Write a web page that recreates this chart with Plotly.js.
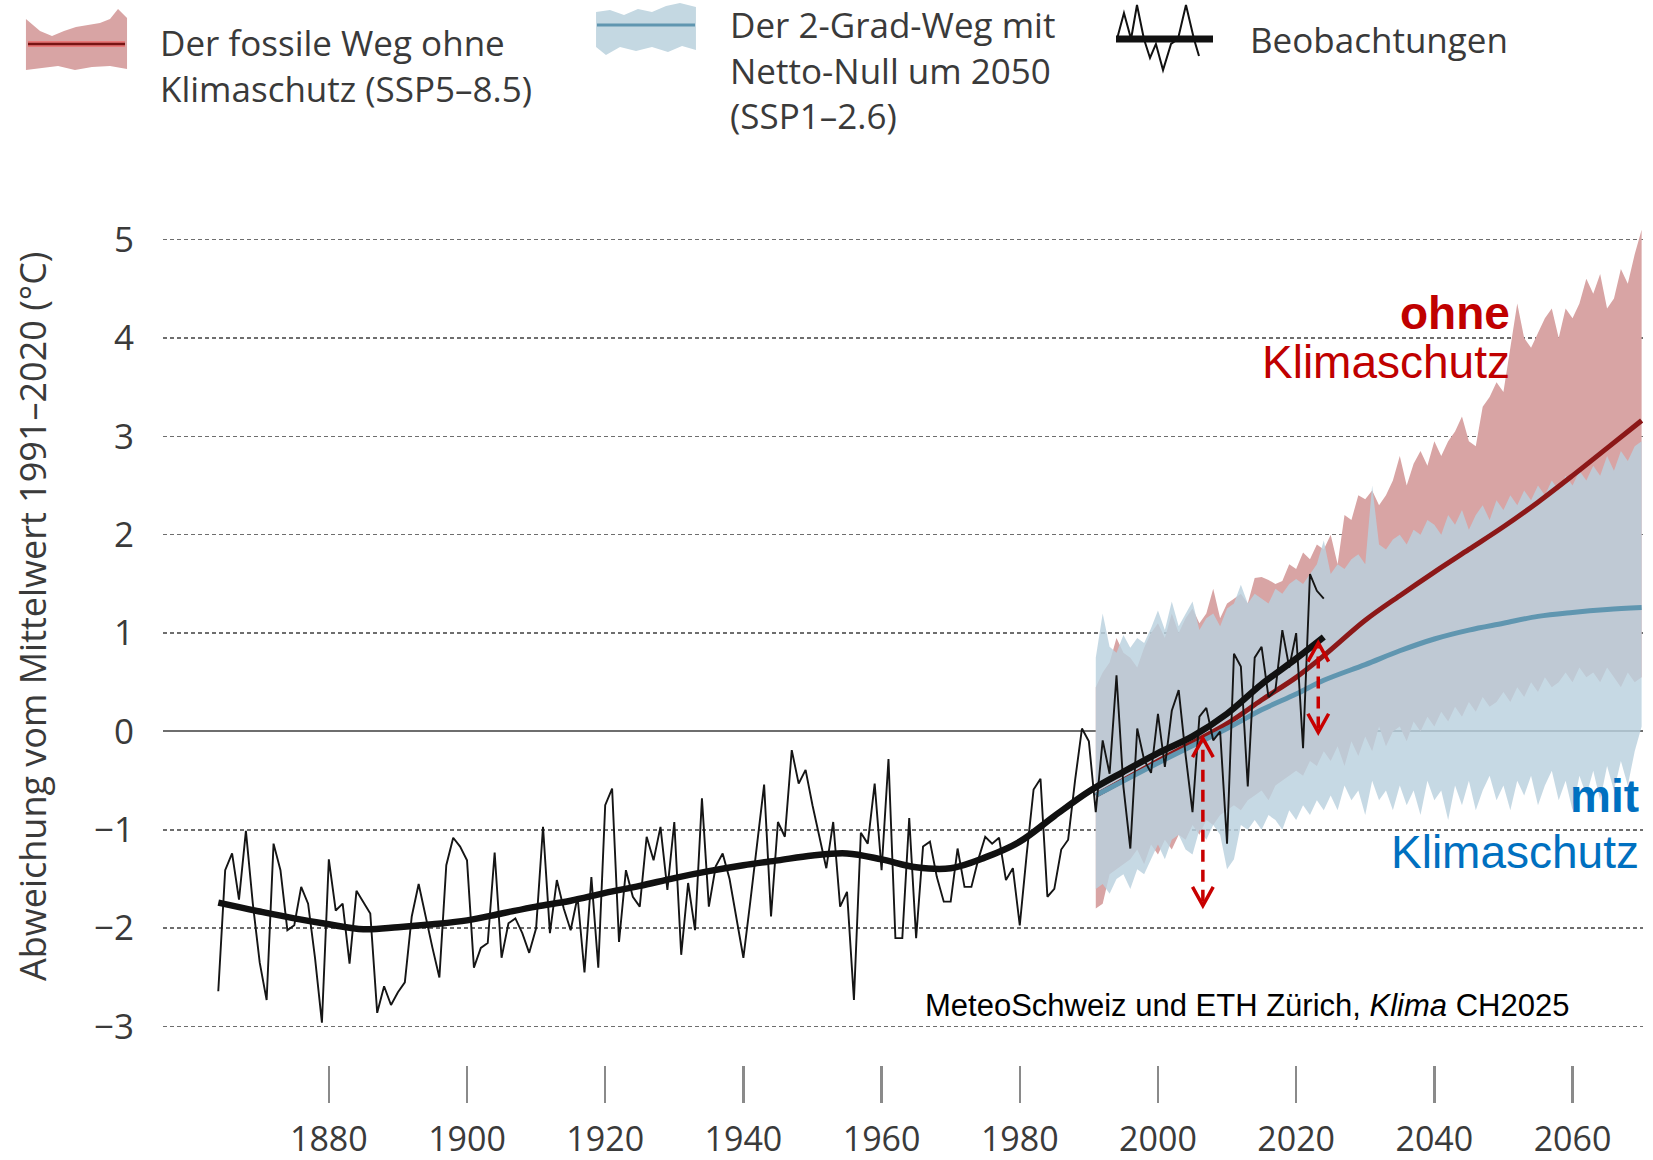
<!DOCTYPE html>
<html><head><meta charset="utf-8">
<script src="https://cdn.plot.ly/plotly-3.0.1.min.js"></script>
<style>html,body{margin:0;padding:0;background:#fff}#chart{width:1653px;height:1160px}</style>
</head><body><div id="chart"></div>
<script>
// ---------- data ----------
const OBS_START = 1864;
const obsValues = [
 -2.64,-1.41,-1.24,-1.71,-1.01,-1.75,-2.35,-2.73,-1.14,-1.41,
 -2.02,-1.97,-1.58,-1.75,-2.30,-2.96,-1.30,-1.82,-1.75,-2.36,
 -1.62,-1.73,-1.85,-2.86,-2.59,-2.78,-2.65,-2.55,-1.88,-1.55,
 -1.88,-2.20,-2.50,-1.36,-1.08,-1.17,-1.31,-2.40,-2.20,-2.15,
 -1.23,-2.30,-1.95,-1.90,-2.05,-2.25,-2.00,-0.97,-2.05,-1.51,
 -1.80,-2.02,-1.68,-2.45,-1.48,-2.40,-0.75,-0.58,-2.14,-1.41,
 -1.68,-1.78,-1.07,-1.31,-0.97,-1.61,-0.92,-2.27,-1.54,-2.02,
 -0.68,-1.78,-1.37,-1.24,-1.50,-1.90,-2.30,-1.73,-1.13,-0.54,
 -1.88,-0.92,-1.07,-0.19,-0.53,-0.39,-0.75,-1.07,-1.39,-0.92,
 -1.78,-1.63,-2.73,-1.03,-1.14,-0.53,-1.41,-0.28,-2.10,-2.10,
 -0.88,-2.10,-1.17,-1.12,-1.48,-1.73,-1.73,-1.19,-1.58,-1.58,
 -1.30,-1.07,-1.14,-1.08,-1.51,-1.39,-1.97,-1.25,-0.59,-0.48,
 -1.68,-1.60,-1.20,-1.10,-0.50,0.03,-0.10,-0.82,-0.09,-0.43,
 0.57,-0.56,-1.19,0.03,-0.29,-0.42,0.18,-0.36,0.21,0.42,
 -0.24,-0.82,0.15,0.24,-0.09,0.00,-1.14,0.79,0.66,-0.56,
 0.75,0.86,0.35,0.42,1.03,0.65,1.00,-0.17,1.60,1.43,1.35
];
const smoothYears  = [1864,1870,1875,1880,1885,1890,1895,1900,1905,1910,1915,1920,1925,1930,1935,1940,1945,1950,1955,1960,1965,1970,1975,1980,1985,1990,1995,2000,2005,2010,2015,2020,2024];
const smoothValues = [-1.74,-1.83,-1.90,-1.96,-2.01,-1.99,-1.96,-1.92,-1.85,-1.78,-1.72,-1.64,-1.57,-1.49,-1.42,-1.36,-1.31,-1.26,-1.24,-1.30,-1.38,-1.39,-1.28,-1.12,-0.86,-0.61,-0.41,-0.22,-0.05,0.18,0.48,0.74,0.96];

const BAND_START = 1991;
const redUpper = [
 0.45,0.60,0.70,0.95,0.80,0.75,0.65,0.85,1.00,1.10,
 0.95,1.20,1.00,1.15,1.25,1.10,1.20,1.45,1.15,1.30,
 1.35,1.40,1.30,1.56,1.57,1.54,1.50,1.53,1.70,1.65,
 1.82,1.75,1.90,1.85,2.00,1.70,2.20,2.15,2.40,2.36,
 2.45,2.30,2.40,2.55,2.80,2.50,2.72,2.85,2.70,2.95,
 2.80,2.95,3.05,3.20,2.95,2.90,3.30,3.40,3.55,3.45,
 3.90,4.35,4.00,3.90,4.05,4.20,4.30,4.00,4.30,4.20,
 4.35,4.60,4.45,4.65,4.30,4.40,4.70,4.55,4.85,5.10
];
const redLower = [
 -1.80,-1.75,-1.45,-1.40,-1.35,-1.30,-1.20,-1.35,-1.15,-1.25,
 -1.10,-1.20,-1.05,-1.10,-0.95,-1.05,-0.90,-0.95,-0.85,-0.80,
 -0.75,-0.80,-0.70,-0.65,-0.60,-0.70,-0.55,-0.50,-0.45,-0.40,
 -0.45,-0.30,-0.35,-0.20,-0.30,-0.15,-0.35,-0.10,-0.25,-0.05,
 -0.20,0.05,-0.15,0.00,0.05,-0.10,0.10,0.00,0.15,0.05,
 0.20,0.10,0.25,0.15,0.30,0.20,0.35,0.25,0.30,0.40,
 0.30,0.45,0.35,0.50,0.40,0.55,0.45,0.50,0.60,0.50,
 0.65,0.55,0.60,0.50,0.65,0.55,0.45,0.60,0.50,0.55
];
const blueUpper = [
 0.75,1.20,0.86,0.80,0.98,0.85,0.95,0.90,1.05,1.23,
 1.03,1.32,1.07,1.20,1.32,1.03,1.15,1.20,1.07,1.25,
 1.30,1.49,1.30,1.40,1.35,1.30,1.45,1.40,1.50,1.55,
 1.50,1.60,1.70,1.94,1.60,1.70,1.65,1.75,1.80,1.70,
 2.50,1.90,1.85,1.95,2.00,1.90,2.05,2.00,2.15,2.10,
 2.00,2.20,2.10,2.25,2.05,2.20,2.30,2.15,2.35,2.25,
 2.40,2.30,2.45,2.35,2.50,2.40,2.55,2.45,2.60,2.50,
 2.65,2.55,2.70,2.60,2.80,2.65,2.85,2.75,2.90,2.95
];
const blueLower = [
 -1.60,-1.55,-1.65,-1.50,-1.45,-1.60,-1.40,-1.45,-1.30,-1.15,
 -1.30,-1.10,-1.05,-1.20,-1.25,-1.00,-1.10,-0.95,-1.05,-1.40,
 -1.30,-0.95,-1.00,-0.90,-1.00,-0.85,-0.90,-1.00,-0.80,-0.90,
 -0.75,-0.85,-0.70,-0.80,-0.65,-0.80,-0.55,-0.70,-0.60,-0.85,
 -0.50,-0.70,-0.60,-0.80,-0.55,-0.75,-0.60,-0.85,-0.50,-0.70,
 -0.60,-0.90,-0.55,-0.75,-0.50,-0.80,-0.60,-0.45,-0.70,-0.55,
 -0.80,-0.50,-0.65,-0.45,-0.75,-0.55,-0.40,-0.70,-0.50,-0.80,
 -0.45,-0.65,-0.40,-0.70,-0.35,-0.60,-0.30,-0.55,-0.20,0.05
];
const medianYears = [1991,2000,2010,2015,2020,2024,2030,2035,2040,2045,2050,2055,2060,2065,2070];
const redMedian   = [-0.65,-0.30,0.08,0.32,0.55,0.77,1.13,1.38,1.62,1.85,2.08,2.33,2.60,2.88,3.16];
const blueMedian  = [-0.65,-0.32,0.03,0.22,0.38,0.52,0.68,0.82,0.94,1.03,1.10,1.17,1.21,1.24,1.26];

const xTickVals = [1880,1900,1920,1940,1960,1980,2000,2020,2040,2060];
const yTickVals = [-3,-2,-1,0,1,2,3,4,5];

// arrows: [x, yBottom, yTop]
const arrows = [[2006.5,-1.77,-0.07],[2023.2,-0.01,0.90]];

// ---------- helpers ----------
const obsYears = obsValues.map((_, i) => OBS_START + i);
const bandYears = redUpper.map((_, i) => BAND_START + i);
function bandTrace(up, low, color) {
  return {
    x: bandYears.concat(bandYears.slice().reverse()),
    y: up.concat(low.slice().reverse()),
    type: 'scatter', mode: 'lines', fill: 'toself', fillcolor: color,
    line: {width: 0}, hoverinfo: 'skip', showlegend: false
  };
}

// ---------- layout geometry ----------
const W = 1653, H = 1160;
const M = {l: 163, r: 10, t: 210, b: 95};
const PW = W - M.l - M.r, PH = H - M.t - M.b;
const px = x => (x - M.l) / PW;
const py = y => (H - M.b - y) / PH;
function pathPx(points) {
  return points.map((p, i) => (i ? 'L' : 'M') + px(p[0]).toFixed(4) + ',' + py(p[1]).toFixed(4)).join(' ');
}

const FONT = 'Open Sans, Noto Sans, sans-serif';
const TXT = '#3a3a3a';
const RED = 'rgb(200,0,0)';

const traces = [
  bandTrace(redUpper, redLower, 'rgb(216,164,164)'),
  bandTrace(blueUpper, blueLower, 'rgba(186,209,222,0.82)'),
  {x: medianYears, y: redMedian, type: 'scatter', mode: 'lines',
   line: {color: 'rgb(140,24,24)', width: 5, shape: 'spline'}, hoverinfo: 'skip', showlegend: false},
  {x: medianYears, y: blueMedian, type: 'scatter', mode: 'lines',
   line: {color: 'rgb(96,150,176)', width: 5, shape: 'spline'}, hoverinfo: 'skip', showlegend: false},
  {x: obsYears, y: obsValues, type: 'scatter', mode: 'lines',
   line: {color: '#151515', width: 1.9}, hoverinfo: 'skip', showlegend: false},
  {x: smoothYears, y: smoothValues, type: 'scatter', mode: 'lines',
   line: {color: '#111', width: 6.5, shape: 'spline'}, hoverinfo: 'skip', showlegend: false}
];

const shapes = [];
arrows.forEach(a => {
  const [x, y0, y1] = a;
  shapes.push({type: 'line', xref: 'x', yref: 'y', x0: x, x1: x, y0: y0 + 0.04, y1: y1 - 0.04,
    line: {color: RED, width: 3.5, dash: '12px,8px'}});
  const dx = 1.5, dy = 0.19;
  shapes.push({type: 'path', xref: 'x', yref: 'y',
    path: `M${x-dx},${y1-dy} L${x},${y1} L${x+dx},${y1-dy}`, line: {color: RED, width: 3.5}});
  shapes.push({type: 'path', xref: 'x', yref: 'y',
    path: `M${x-dx},${y0+dy} L${x},${y0} L${x+dx},${y0+dy}`, line: {color: RED, width: 3.5}});
});
// legend icons (pixel positions -> paper)
shapes.push({type: 'path', xref: 'paper', yref: 'paper', fillcolor: 'rgb(216,164,164)', line: {width: 0},
  path: pathPx([[26,19],[40,31],[52,36],[64,31],[76,27],[88,25],[100,23],[110,19],[118,9],[127,18],[127,69],[110,66],[92,67],[75,70],[58,66],[42,68],[26,70]]) + ' Z'});
shapes.push({type: 'line', xref: 'paper', yref: 'paper', x0: px(28), x1: px(125), y0: py(44), y1: py(44),
  line: {color: 'rgb(232,120,120)', width: 6}});
shapes.push({type: 'line', xref: 'paper', yref: 'paper', x0: px(28), x1: px(125), y0: py(44), y1: py(44),
  line: {color: 'rgb(120,20,20)', width: 2.5}});
shapes.push({type: 'path', xref: 'paper', yref: 'paper', fillcolor: 'rgb(196,216,226)', line: {width: 0},
  path: pathPx([[596,12],[610,10],[624,15],[638,9],[652,12],[666,6],[680,3],[696,7],[696,50],[682,46],[668,52],[652,47],[636,51],[620,47],[606,55],[596,47]]) + ' Z'});
shapes.push({type: 'line', xref: 'paper', yref: 'paper', x0: px(597), x1: px(695), y0: py(25), y1: py(25),
  line: {color: 'rgb(96,150,176)', width: 3}});
shapes.push({type: 'path', xref: 'paper', yref: 'paper', line: {color: '#111', width: 2},
  path: pathPx([[1117,39],[1124,13],[1131,39],[1137,5],[1144,39],[1150,58],[1156,44],[1163,70],[1171,44],[1178,39],[1186,5],[1194,39],[1199,56]])});
shapes.push({type: 'line', xref: 'paper', yref: 'paper', x0: px(1116), x1: px(1213), y0: py(39), y1: py(39),
  line: {color: '#111', width: 7}});

const annotations = [
  {text: 'Abweichung vom Mittelwert 1991–2020 (°C)', textangle: -90, xref: 'paper', yref: 'paper',
   x: px(32), y: py(617), xanchor: 'center', yanchor: 'middle', showarrow: false,
   font: {family: FONT, size: 36, color: TXT}},
  {text: 'Der fossile Weg ohne<br>Klimaschutz (SSP5–8.5)', xref: 'paper', yref: 'paper',
   x: px(158), y: py(65), xanchor: 'left', yanchor: 'middle', align: 'left', showarrow: false,
   font: {family: FONT, size: 35, color: TXT}},
  {text: 'Der 2-Grad-Weg mit<br>Netto-Null um 2050<br>(SSP1–2.6)', xref: 'paper', yref: 'paper',
   x: px(728), y: py(70), xanchor: 'left', yanchor: 'middle', align: 'left', showarrow: false,
   font: {family: FONT, size: 35, color: TXT}},
  {text: 'Beobachtungen', xref: 'paper', yref: 'paper',
   x: px(1248), y: py(39), xanchor: 'left', yanchor: 'middle', showarrow: false,
   font: {family: FONT, size: 35, color: TXT}},
  {text: '<b>ohne</b>', xref: 'paper', yref: 'paper', x: px(1512), y: py(313), xanchor: 'right', yanchor: 'middle',
   showarrow: false, font: {family: 'Liberation Sans, Arial, sans-serif', size: 46, color: 'rgb(192,0,0)'}},
  {text: 'Klimaschutz', xref: 'paper', yref: 'paper', x: px(1512), y: py(362), xanchor: 'right', yanchor: 'middle',
   showarrow: false, font: {family: 'Liberation Sans, Arial, sans-serif', size: 46, color: 'rgb(192,0,0)'}},
  {text: '<b>mit</b>', xref: 'paper', yref: 'paper', x: px(1641), y: py(796), xanchor: 'right', yanchor: 'middle',
   showarrow: false, font: {family: 'Liberation Sans, Arial, sans-serif', size: 46, color: 'rgb(0,112,192)'}},
  {text: 'Klimaschutz', xref: 'paper', yref: 'paper', x: px(1641), y: py(852), xanchor: 'right', yanchor: 'middle',
   showarrow: false, font: {family: 'Liberation Sans, Arial, sans-serif', size: 46, color: 'rgb(0,112,192)'}},
  {text: 'MeteoSchweiz und ETH Zürich, <i>Klima</i> CH2025', xref: 'paper', yref: 'paper',
   x: px(923), y: py(1005), xanchor: 'left', yanchor: 'middle', showarrow: false,
   font: {family: 'Liberation Sans, Arial, sans-serif', size: 31, color: '#000'}}
];

const layout = {
  width: W, height: H, margin: M,
  paper_bgcolor: '#fff', plot_bgcolor: '#fff', showlegend: false,
  xaxis: {range: [1856, 2070.2], showgrid: false, zeroline: false, showline: false,
    tickmode: 'array', tickvals: xTickVals, ticks: 'outside', ticklen: 37, tickwidth: 2.5, tickcolor: '#8a8a8a',
    tickfont: {family: FONT, size: 34, color: TXT}, ticklabelstandoff: 7, fixedrange: true},
  yaxis: {range: [-3.39, 5.30], showgrid: true, gridcolor: '#6e6e6e', gridwidth: 1.5, griddash: '4px,3px',
    zeroline: true, zerolinecolor: '#6e6e6e', zerolinewidth: 2, showline: false,
    tickmode: 'array', tickvals: yTickVals, ticks: '', tickfont: {family: FONT, size: 35, color: TXT},
    ticklabelstandoff: 28, fixedrange: true},
  shapes: shapes, annotations: annotations
};

Plotly.newPlot('chart', traces, layout, {staticPlot: true, displayModeBar: false});
</script>
</body></html>
